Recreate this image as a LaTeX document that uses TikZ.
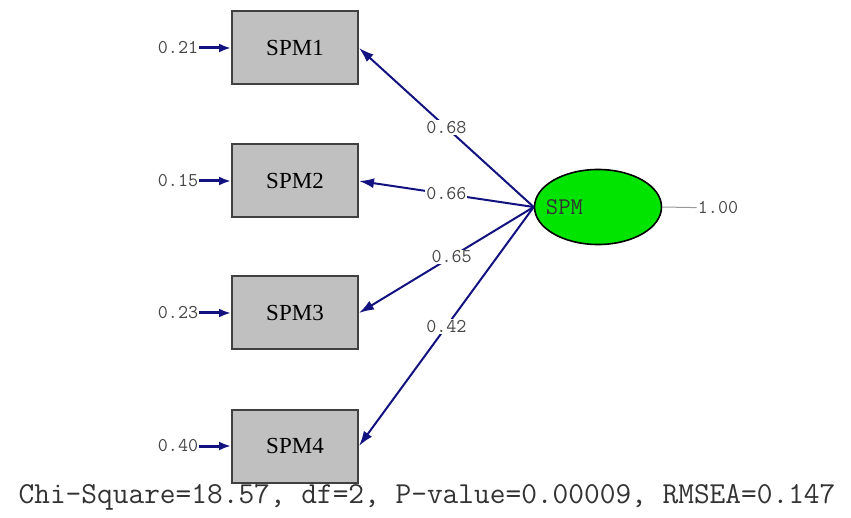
\documentclass[tikz,border=0pt]{standalone}
\usepackage{fontspec}
\setmainfont{Liberation Serif}
\usetikzlibrary{arrows.meta,shapes.geometric}
\definecolor{boxgray}{RGB}{192,192,192}
\definecolor{latgreen}{RGB}{0,228,0}
\definecolor{pathblue}{RGB}{18,18,128}
\definecolor{numgray}{RGB}{70,70,70}
\begin{document}
\begin{tikzpicture}[x=1pt,y=-1pt,
  obs/.style={draw=black!75,line width=2pt,fill=boxgray,minimum width=126pt,minimum height=73pt,inner sep=0pt,font=\fontsize{23}{23}\selectfont},
  lat/.style={ellipse,draw=black,line width=1.6pt,fill=latgreen,minimum width=127pt,minimum height=75pt,inner sep=0pt},
  num/.style={text=numgray,inner sep=1pt,font=\ttfamily\fontsize{19.5}{19.5}\selectfont},
  load/.style={pathblue,line width=2pt,-{Latex[length=15pt,width=10pt]}},
  err/.style={pathblue,line width=3pt,-{Latex[length=12pt,width=9pt]}}]
\useasboundingbox (0,0) rectangle (851,518);
%画观测变量和潜变量
\node[obs] (spm1) at (295,48) {SPM1};
\node[obs] (spm2) at (295,181) {SPM2};
\node[obs] (spm3) at (295,313) {SPM3};
\node[obs] (spm4) at (295,446) {SPM4};
\node[lat,label={[anchor=west,inner sep=12pt,text=black!80,font=\ttfamily\fontsize{24}{24}\selectfont]west:SPM}] (spm) at (598,207) {};
%误差项
\node[num] (e1) at (178,48) {0.21};
\node[num] (e2) at (178,181) {0.15};
\node[num] (e3) at (178,313) {0.23};
\node[num] (e4) at (178,446) {0.40};
\draw[err] (e1) -- (spm1);
\draw[err] (e2) -- (spm2);
\draw[err] (e3) -- (spm3);
\draw[err] (e4) -- (spm4);
%因子载荷
\draw[load] (spm.west) -- node[num,fill=white]{0.68} (spm1.east);
\draw[load] (spm.west) -- node[num,fill=white]{0.66} (spm2.east);
\draw[load] (spm.west) -- node[num,fill=white,pos=0.47]{0.65} (spm3.east);
\draw[load] (spm.west) -- node[num,fill=white]{0.42} (spm4.east);
\node[num] (v) at (718,208) {1.00};
\draw[black!40,line width=1pt] (spm.east) -- (v);
\node[text=black!80,font=\ttfamily\fontsize{30.5}{30.5}\selectfont] (fit) at (427,497) {Chi-Square=18.57, df=2, P-value=0.00009, RMSEA=0.147};
\end{tikzpicture}
\end{document}
